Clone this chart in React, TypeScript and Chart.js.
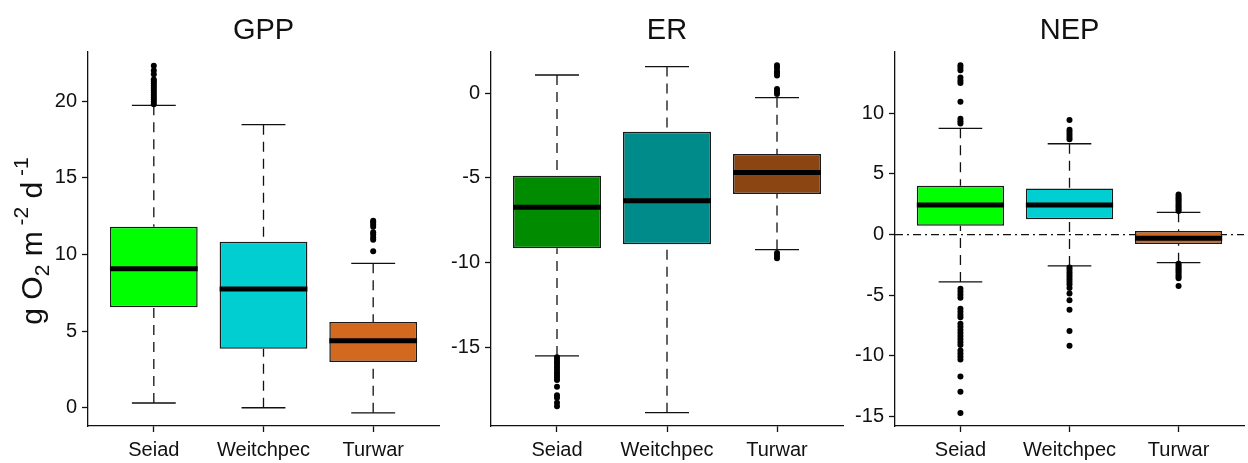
import React, { useEffect, useRef } from 'react';
import { Chart, registerables } from 'chart.js';

Chart.register(...registerables);

// Sites along every x axis
const SITES = ['Seiad', 'Weitchpec', 'Turwar'];

// Box colours
const LIGHT_COLORS = ['#00FF00', '#00CED1', '#D2691E'];
const DARK_COLORS = ['#008B00', '#008B8B', '#8B4513'];

// GPP (g O2 m-2 d-1)
const GPP_LOWER = [0.31, 0.0, -0.33];
const GPP_Q1 = [6.55, 3.85, 2.98];
const GPP_MEDIAN = [9.07, 7.74, 4.37];
const GPP_Q3 = [11.8, 10.83, 5.59];
const GPP_UPPER = [19.72, 18.46, 9.42];
const GPP_OUT_SEIAD = [19.8, 19.95, 20.1, 20.25, 20.4, 20.55, 20.7, 20.85, 21.0, 21.15, 21.3, 21.4, 21.75, 22.0, 22.3];
const GPP_OUT_WEITCHPEC: number[] = [];
const GPP_OUT_TURWAR = [10.2, 10.95, 11.1, 11.3, 11.45, 11.8, 11.95, 12.1, 12.2];
const GPP_TICKS = [0, 5, 10, 15, 20];

// ER
const ER_LOWER = [-15.53, -18.88, -9.24];
const ER_Q1 = [-9.16, -8.92, -5.95];
const ER_MEDIAN = [-6.74, -6.35, -4.69];
const ER_Q3 = [-4.88, -2.27, -3.59];
const ER_UPPER = [1.08, 1.58, -0.26];
const ER_OUT_SEIAD = [-15.6, -15.75, -15.9, -16.05, -16.2, -16.35, -16.5, -16.65, -16.8, -16.95, -17.35, -17.85, -18.0, -18.3, -18.5];
const ER_OUT_WEITCHPEC: number[] = [];
const ER_OUT_TURWAR = [-0.05, 0.1, 0.25, 1.05, 1.2, 1.3, 1.5, 1.65, -9.45, -9.6, -9.75];
const ER_TICKS = [-15, -10, -5, 0];

// NEP
const NEP_LOWER = [-3.9, -2.58, -2.31];
const NEP_Q1 = [0.74, 1.26, -0.77];
const NEP_MEDIAN = [2.44, 2.44, -0.3];
const NEP_Q3 = [4.03, 3.81, 0.3];
const NEP_UPPER = [8.76, 7.49, 1.84];
const NEP_OUT_SEIAD = [
  9.15, 9.35, 9.55, 10.95, 12.5, 12.7, 12.95, 13.55, 13.75, 13.95,
  -4.45, -4.7, -4.95, -5.2, -6.1, -6.35, -6.6, -6.8, -7.35, -7.6, -7.85, -8.1, -8.35, -8.6,
  -8.85, -9.1, -9.55, -9.8, -10.05, -10.3, -11.7, -12.95, -14.7,
];
const NEP_OUT_WEITCHPEC = [
  7.85, 8.05, 8.25, 8.45, 8.65, 9.45,
  -2.7, -2.9, -3.1, -3.3, -3.5, -3.7, -3.9, -4.1, -4.4, -4.85, -5.4, -6.2, -7.95, -9.15,
];
const NEP_OUT_TURWAR = [
  1.95, 2.1, 2.25, 2.4, 2.55, 2.7, 2.85, 3.0, 3.15, 3.3,
  -2.4, -2.55, -2.7, -2.85, -3.0, -3.15, -3.3, -3.45, -3.6, -4.23,
];
const NEP_TICKS = [-15, -10, -5, 0, 5, 10];

const FONT = '"Liberation Sans", Arial, Helvetica, sans-serif';
const HEIGHT = 463;
const INK = '#111111';

type PanelSpec = {
  title: string;
  left: number;
  width: number;
  axisLeft: number;
  yMin: number;
  yMax: number;
  yTicks: number[];
  lower: number[];
  q1: number[];
  median: number[];
  q3: number[];
  upper: number[];
  outliers: number[][];
  colors: string[];
  zeroLine?: boolean;
  yTitle?: boolean;
};

const PANELS: PanelSpec[] = [
  {
    title: 'GPP', left: 0, width: 443, axisLeft: 88,
    yMin: -1.19, yMax: 23.2, yTicks: GPP_TICKS,
    lower: GPP_LOWER, q1: GPP_Q1, median: GPP_MEDIAN, q3: GPP_Q3, upper: GPP_UPPER,
    outliers: [GPP_OUT_SEIAD, GPP_OUT_WEITCHPEC, GPP_OUT_TURWAR],
    colors: LIGHT_COLORS, yTitle: true,
  },
  {
    title: 'ER', left: 443, width: 404, axisLeft: 48,
    yMin: -19.67, yMax: 2.44, yTicks: ER_TICKS,
    lower: ER_LOWER, q1: ER_Q1, median: ER_MEDIAN, q3: ER_Q3, upper: ER_UPPER,
    outliers: [ER_OUT_SEIAD, ER_OUT_WEITCHPEC, ER_OUT_TURWAR],
    colors: DARK_COLORS,
  },
  {
    title: 'NEP', left: 847, width: 401, axisLeft: 48,
    yMin: -15.77, yMax: 15.05, yTicks: NEP_TICKS,
    lower: NEP_LOWER, q1: NEP_Q1, median: NEP_MEDIAN, q3: NEP_Q3, upper: NEP_UPPER,
    outliers: [NEP_OUT_SEIAD, NEP_OUT_WEITCHPEC, NEP_OUT_TURWAR],
    colors: LIGHT_COLORS, zeroLine: true,
  },
];

// Y axis title "g O2 m-2 d-1" with sub/superscripts, written bottom-to-top
function drawYTitle(ctx: CanvasRenderingContext2D, baseX: number, centerY: number) {
  const big = 30;
  const small = 21;
  const parts = [
    { t: 'g O', s: big, dy: 0 },
    { t: '2', s: small, dy: 7 },
    { t: ' m', s: big, dy: 0 },
    { t: ' -2', s: small, dy: -14 },
    { t: ' d', s: big, dy: 0 },
    { t: ' -1', s: small, dy: -14 },
  ];
  ctx.save();
  ctx.fillStyle = INK;
  ctx.textBaseline = 'alphabetic';
  ctx.textAlign = 'left';
  let total = 0;
  const widths = parts.map((p) => {
    ctx.font = `${p.s}px ${FONT}`;
    const w = ctx.measureText(p.t).width;
    total += w;
    return w;
  });
  ctx.translate(baseX, centerY);
  ctx.rotate(-Math.PI / 2);
  let x = -total / 2;
  parts.forEach((p, i) => {
    ctx.font = `${p.s}px ${FONT}`;
    ctx.fillText(p.t, x, p.dy);
    x += widths[i];
  });
  ctx.restore();
}

function makeBoxPlugin(spec: PanelSpec) {
  return {
    id: 'boxParts',
    beforeDatasetsDraw(chart: any) {
      const { ctx, chartArea, scales } = chart;
      const x = scales.x;
      const y = scales.y;
      ctx.save();
      ctx.strokeStyle = INK;
      if (spec.zeroLine) {
        const py = y.getPixelForValue(0);
        ctx.lineWidth = 1.3;
        ctx.setLineDash([8, 4, 2, 4]);
        ctx.beginPath();
        ctx.moveTo(chartArea.left, py);
        ctx.lineTo(chartArea.right, py);
        ctx.stroke();
      }
      spec.lower.forEach((lo, i) => {
        const cx = x.getPixelForValue(i + 1);
        const capL = x.getPixelForValue(i + 1 - 0.2);
        const capR = x.getPixelForValue(i + 1 + 0.2);
        const pUp = y.getPixelForValue(spec.upper[i]);
        const pQ3 = y.getPixelForValue(spec.q3[i]);
        const pQ1 = y.getPixelForValue(spec.q1[i]);
        const pLo = y.getPixelForValue(lo);
        ctx.lineWidth = 1.3;
        ctx.setLineDash([10, 7]);
        ctx.beginPath();
        ctx.moveTo(cx, pUp);
        ctx.lineTo(cx, pQ3);
        ctx.moveTo(cx, pLo);
        ctx.lineTo(cx, pQ1);
        ctx.stroke();
        ctx.setLineDash([]);
        ctx.beginPath();
        ctx.moveTo(capL, pUp);
        ctx.lineTo(capR, pUp);
        ctx.moveTo(capL, pLo);
        ctx.lineTo(capR, pLo);
        ctx.stroke();
      });
      ctx.restore();
    },
    afterDatasetsDraw(chart: any) {
      const { ctx, scales } = chart;
      const x = scales.x;
      const y = scales.y;
      ctx.save();
      ctx.strokeStyle = '#000';
      ctx.lineWidth = 5;
      spec.median.forEach((m, i) => {
        const py = y.getPixelForValue(m);
        ctx.beginPath();
        ctx.moveTo(x.getPixelForValue(i + 1 - 0.4), py);
        ctx.lineTo(x.getPixelForValue(i + 1 + 0.4), py);
        ctx.stroke();
      });
      ctx.restore();
    },
    afterDraw(chart: any) {
      const { ctx, chartArea } = chart;
      ctx.save();
      ctx.fillStyle = INK;
      ctx.font = `29px ${FONT}`;
      ctx.textAlign = 'center';
      ctx.textBaseline = 'alphabetic';
      ctx.fillText(spec.title, (chartArea.left + chartArea.right) / 2, 38.5);
      ctx.restore();
      if (spec.yTitle) drawYTitle(ctx, 42, (chartArea.top + chartArea.bottom) / 2 + 2);
    },
  };
}

function buildConfig(spec: PanelSpec): any {
  const boxes = SITES.map((_, i) => ({ x: i + 1, y: [spec.q1[i], spec.q3[i]] }));
  const points: { x: number; y: number }[] = [];
  spec.outliers.forEach((list, i) => list.forEach((v) => points.push({ x: i + 1, y: v })));
  const tickFont = { family: FONT, size: 20 };
  return {
    type: 'bar',
    data: {
      datasets: [
        {
          type: 'bar',
          data: boxes,
          backgroundColor: spec.colors,
          borderColor: '#1a1a1a',
          borderWidth: 1.5,
          borderSkipped: false,
          barPercentage: 0.8,
          categoryPercentage: 1,
        },
        {
          type: 'scatter',
          data: points,
          pointRadius: 3,
          pointBackgroundColor: '#000',
          pointBorderWidth: 0,
          showLine: false,
        },
      ],
    },
    options: {
      animation: false,
      responsive: false,
      maintainAspectRatio: false,
      events: [],
      layout: { padding: { top: 52, left: 0, right: 0, bottom: 0 } },
      plugins: { legend: { display: false }, tooltip: { enabled: false }, title: { display: false } },
      scales: {
        x: {
          type: 'linear',
          min: 0.4,
          max: 3.6,
          offset: false,
          afterBuildTicks: (scale: any) => {
            scale.ticks = SITES.map((_, i) => ({ value: i + 1 }));
          },
          afterFit: (scale: any) => {
            scale.height = 37;
          },
          ticks: {
            callback: (v: number) => SITES[Math.round(v) - 1],
            font: tickFont,
            color: INK,
            padding: 6,
            maxRotation: 0,
            autoSkip: false,
          },
          grid: { offset: false, drawOnChartArea: false, drawTicks: true, tickLength: 6, tickColor: INK, tickWidth: 1.3 },
          border: { display: true, color: INK, width: 1.3 },
        },
        y: {
          type: 'linear',
          min: spec.yMin,
          max: spec.yMax,
          afterBuildTicks: (scale: any) => {
            scale.ticks = spec.yTicks.map((v) => ({ value: v }));
          },
          afterFit: (scale: any) => {
            scale.width = spec.axisLeft;
          },
          ticks: { font: tickFont, color: INK, padding: 5, callback: (v: number) => String(v) },
          grid: { drawOnChartArea: false, drawTicks: true, tickLength: 6, tickColor: INK, tickWidth: 1.3 },
          border: { display: true, color: INK, width: 1.3 },
        },
      },
    },
    plugins: [makeBoxPlugin(spec)],
  };
}

function Panel({ spec }: { spec: PanelSpec }) {
  const ref = useRef<HTMLCanvasElement>(null);
  useEffect(() => {
    const chart = new Chart(ref.current as HTMLCanvasElement, buildConfig(spec));
    return () => chart.destroy();
  }, [spec]);
  return (
    <canvas
      ref={ref}
      width={spec.width}
      height={HEIGHT}
      style={{ position: 'absolute', left: spec.left, top: 0, width: spec.width, height: HEIGHT }}
    />
  );
}

export default function App() {
  return (
    <div style={{ position: 'absolute', left: 0, top: 0, width: 1248, height: HEIGHT, background: '#fff', overflow: 'hidden' }}>
      {PANELS.map((p) => (
        <Panel key={p.title} spec={p} />
      ))}
    </div>
  );
}
